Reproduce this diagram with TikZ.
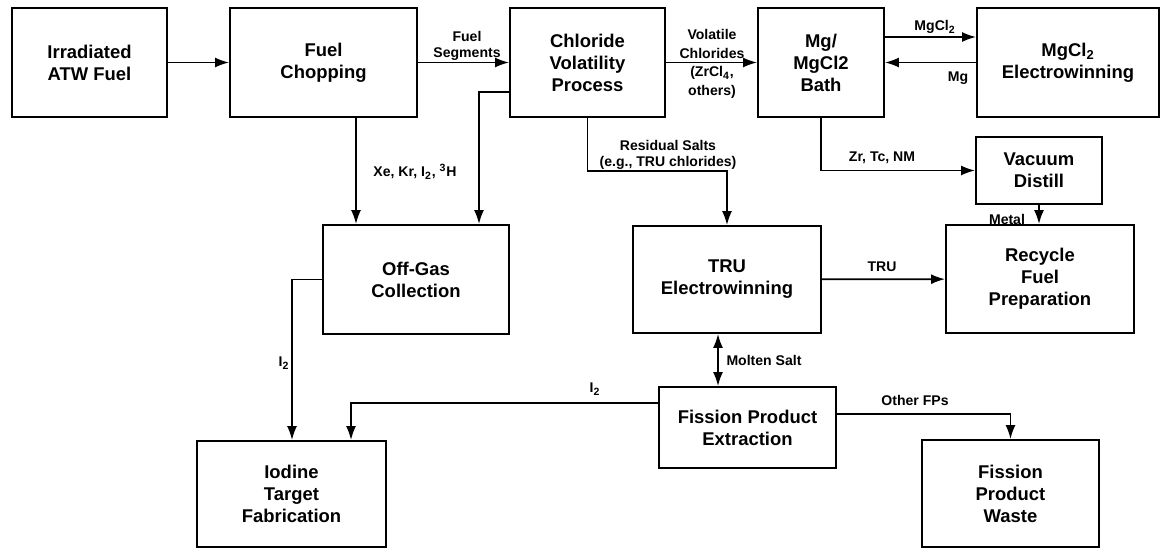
\documentclass[tikz,border=0pt]{standalone}
\usepackage{fontspec}
\setmainfont{Liberation Sans}
\usetikzlibrary{positioning, arrows.meta}
\tikzset{
    >={Latex[length=2.8mm,width=2mm]}, % filled heads
    box/.style={draw, line width=1.1pt, align=center, inner sep=0pt,
        font=\fontsize{10.5}{12.5}\selectfont\bfseries},
    flow/.style={->, line width=1pt},
    lbl/.style={align=center, inner sep=0pt,
        font=\fontsize{8}{9.5}\selectfont\bfseries},
}
\begin{document}
\begin{tikzpicture}[x=0.02cm, y=-0.02cm]
  \useasboundingbox (0,0) rectangle (1161,548);

  \node[box, minimum width=3.10cm, minimum height=2.18cm] (irr) at (89.5,62.5) {Irradiated\\ATW Fuel};
  \node[box, minimum width=3.74cm, minimum height=2.18cm] (chop) at (323.5,62.5) {Fuel\\Chopping};
  \node[box, minimum width=3.10cm, minimum height=2.18cm] (chlor) at (587.5,62.5) {Chloride\\Volatility\\Process};
  \node[box, minimum width=2.52cm, minimum height=2.18cm] (bath) at (821,62.5) {Mg/\\MgCl2\\Bath};
  \node[box, minimum width=3.64cm, minimum height=2.18cm] (mgel) at (1068,62.5) {MgCl\textsubscript{2}\\Electrowinning};
  \node[box, minimum width=2.52cm, minimum height=1.34cm] (vac) at (1039,170.5) {Vacuum\\Distill};
  \node[box, minimum width=3.76cm, minimum height=2.16cm] (recyc) at (1040,279) {Recycle\\Fuel\\Preparation};
  \node[box, minimum width=3.76cm, minimum height=2.14cm] (tru) at (727,279.5) {TRU\\Electrowinning};
  \node[box, minimum width=3.72cm, minimum height=2.18cm] (offgas) at (416,279.5) {Off-Gas\\Collection};
  \node[box, minimum width=3.54cm, minimum height=1.62cm] (fpe) at (747.5,427.5) {Fission Product\\Extraction};
  \node[box, minimum width=3.54cm, minimum height=2.14cm] (waste) at (1010.5,493.5) {Fission\\Product\\Waste};
  \node[box, minimum width=3.78cm, minimum height=2.12cm] (iod) at (291.5,494) {Iodine\\Target\\Fabrication};

  \draw[flow] (irr) -- (chop);
  \draw[flow] (chop) -- (chlor);
  \draw[flow] (chlor) -- (bath);
  \draw[flow] (bath.east |- 0,37) -- (mgel.west |- 0,37);
  \draw[flow] (mgel) -- (bath);
  \draw[flow] (chop.south -| 356,0) -- (offgas.north -| 356,0);
  \draw[flow] (chlor.west |- 0,92) -| (offgas.north -| 479,0);
  \draw[flow] (chlor.south) |- (tru.north |- 0,171) -- (tru.north);
  \draw[flow] (bath.south) |- (vac.west);
  \draw[flow] (vac.south) -- (recyc.north -| vac.south);
  \draw[flow] (tru) -- (recyc);
  \draw[flow, <->] (tru.south -| 718,0) -- (fpe.north -| 718,0);
  \draw[flow] (offgas.west) -| (iod.north -| 292,0);
  \draw[flow] (fpe.west |- 0,403) -| (iod.north -| 351,0);
  \draw[flow] (fpe.east |- 0,414) -| (waste.north);

  \node[lbl] (lseg) at (467,46) {Fuel\\Segments};
  \node[lbl, font=\fontsize{8}{10.5}\selectfont\bfseries] (lvol) at (712,64) {Volatile\\Chlorides\\(ZrCl\textsubscript{4},\\others)};
  \node[lbl] (lmgcl) at (935,27) {MgCl\textsubscript{2}};
  \node[lbl] (lmg) at (958,78) {Mg};
  \node[lbl] (lgas) at (415,172) {Xe, Kr, I\textsubscript{2}, \textsuperscript{3}H};
  \node[lbl] (lres) at (668,155) {Residual Salts\\(e.g., TRU chlorides)};
  \node[lbl] (lzr) at (882,158) {Zr, Tc, NM};
  \node[lbl] (lmet) at (1007,219) {Metal};
  \node[lbl] (ltru) at (882,267) {TRU};
  \node[lbl] (lmol) at (764,360) {Molten Salt};
  \node[lbl] (li1) at (284,363) {I\textsubscript{2}};
  \node[lbl] (li2) at (595,389) {I\textsubscript{2}};
  \node[lbl] (lfp) at (915,400) {Other FPs};
\end{tikzpicture}
\end{document}
